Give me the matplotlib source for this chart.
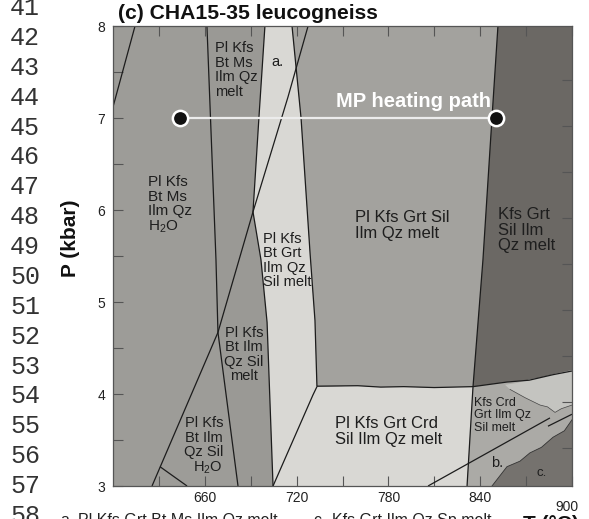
import matplotlib
matplotlib.use('Agg')
import matplotlib.pyplot as plt
from matplotlib.patches import Polygon

plt.rcParams['font.family'] = ['Liberation Sans', 'DejaVu Sans']
plt.rcParams['mathtext.fontset'] = 'custom'
plt.rcParams['mathtext.rm'] = 'Liberation Sans'

# ---------------- data: phase boundaries (T in °C, P in kbar) ----------------
line1_T = [614.4, 600.0]
line1_P = [8.0, 7.12]
steep_T = [625.5, 668.6, 691.5, 714.4, 727.5]
steep_P = [3.0, 4.67, 5.98, 7.23, 8.0]
branch_T = [630.7, 648.4]
branch_P = [3.21, 3.0]
line4_T = [661.4, 667.3, 668.6, 681.7]
line4_P = [8.0, 5.46, 4.67, 3.0]
bandL_T = [699.3, 695.4, 691.5, 696.7, 700.7, 704.6]
bandL_P = [8.0, 7.01, 5.98, 5.46, 4.78, 3.0]
bandR_T = [717.0, 722.9, 728.8, 732.0, 733.3]
bandR_P = [8.0, 7.0, 5.53, 4.80, 4.08]
crdL_T = [704.6, 730.7, 733.3]
crdL_P = [3.0, 3.99, 4.08]
horiz_T = [733.3, 760.0, 775.0, 790.0, 810.0, 835.3]
horiz_P = [4.085, 4.09, 4.075, 4.08, 4.07, 4.08]
darkB_T = [851.6, 847.7, 841.8, 835.3, 831.4]
darkB_P = [8.0, 7.0, 5.46, 4.08, 3.0]
crdTop_T = [835.3, 857.5, 872.0, 887.6, 900.0]
crdTop_P = [4.08, 4.13, 4.15, 4.21, 4.25]
bline_T = [805.9, 885.6]
bline_P = [3.0, 3.74]
bline2_T = [884.3, 900.0]
bline2_P = [3.65, 3.78]
cB_T = [847.7, 857.5, 866.0, 872.5, 880.0, 887.6, 895.0, 900.0]
cB_P = [3.0, 3.21, 3.27, 3.36, 3.42, 3.53, 3.60, 3.72]
speck_T = [856.2, 864.0, 872.5, 880.0, 888.9, 900.0, 900.0, 893.0, 888.9, 884.0, 879.1, 869.3, 859.5]
speck_P = [4.10, 4.12, 4.16, 4.18, 4.22, 4.26, 3.88, 3.84, 3.80, 3.86, 3.88, 3.96, 4.05]

# heating path
path_T = [644.0, 850.0]
path_P = [7.0, 7.0]

# axis ticks
x_major = [660, 720, 780, 840, 900]
x_labels = ['660', '720', '780', '840', '']
x_minor = [630, 690, 750, 810, 870]
y_major = [3, 4, 5, 6, 7, 8]
y_minor = [3.5, 4.5, 5.5, 6.5, 7.5]
y_right = [3.41, 3.91, 4.41, 4.91, 5.41, 5.91, 6.41, 6.91, 7.41]

# field labels
field_labels = [
    'Pl Kfs\nBt Ms\nIlm Qz\n$\\mathregular{H_2O}$',
    'Pl Kfs\nBt Ms\nIlm Qz\nmelt',
    'a.',
    'Pl Kfs Grt Sil\nIlm Qz melt',
    'Kfs Grt\nSil Ilm\nQz melt',
    'Pl Kfs\nBt Grt\nIlm Qz\nSil melt',
    'Pl Kfs\nBt Ilm\nQz Sil\nmelt',
    'Pl Kfs\nBt Ilm\nQz Sil\n$\\mathregular{H_2O}$',
    'Pl Kfs Grt Crd\nSil Ilm Qz melt',
    'Kfs Crd\nGrt Ilm Qz\nSil melt',
    'b.',
    'c.',
]
label_T = [622.9, 666.7, 707.2, 758.2, 851.6, 698.0, 685.6, 671.9, 745.1, 836.0, 851.0, 880.4]
label_P = [6.05, 7.52, 7.61, 5.83, 5.78, 5.45, 4.43, 3.43, 3.59, 3.77, 3.25, 3.14]

line_numbers = ['41', '42', '43', '44', '45', '46', '47', '48', '49',
                '50', '51', '52', '53', '54', '55', '56', '57', '58']

# ---------------- figure ----------------
W, H = 589, 519
fig = plt.figure(figsize=(W / 100, H / 100), dpi=100)
ax = fig.add_axes([113 / W, (H - 486) / H, 459 / W, 460 / H])
ax.set_xlim(600, 900)
ax.set_ylim(3, 8)
ax.set_facecolor('#9d9c98')

def pts(T, P):
    return list(zip(T, P))

rev = lambda l: l[::-1]

c_light = '#d9d8d4'
c_mid = '#a3a29e'
c_dark = '#6b6864'
c_strip = '#9a9995'
c_crd = '#abaaa6'
c_c = '#75726e'
c_speck = '#c4c4c0'

polys = [
    (pts(line4_T, line4_P) + [(704.6, 3.0)] + rev(pts(bandL_T, bandL_P)), c_strip),
    (pts(bandL_T, bandL_P) + pts(crdL_T, crdL_P)[1:] + rev(pts(bandR_T, bandR_P)), c_light),
    (pts(crdL_T, crdL_P) + pts(horiz_T, horiz_P)[1:] + [(831.4, 3.0)], c_light),
    (pts(bandR_T, bandR_P) + pts(horiz_T, horiz_P)[1:] + rev(pts(darkB_T[:3], darkB_P[:3])), c_mid),
    (pts(darkB_T[:4], darkB_P[:4]) + pts(crdTop_T, crdTop_P)[1:] + [(900.0, 8.0)], c_dark),
    (pts(darkB_T[3:], darkB_P[3:]) + [(900.0, 3.0)] + rev(pts(crdTop_T, crdTop_P)), c_crd),
    (pts(speck_T, speck_P), c_speck),
    (pts(cB_T, cB_P) + [(900.0, 3.0)], c_c),
]
for verts, col in polys:
    ax.add_patch(Polygon(verts, closed=True, facecolor=col, edgecolor='none', zorder=1))

lc = '#1c1c1c'
lw = 0.9
for T, P in [(line1_T, line1_P), (steep_T, steep_P), (branch_T, branch_P),
             (line4_T, line4_P), (bandL_T, bandL_P), (bandR_T, bandR_P),
             (crdL_T, crdL_P), (horiz_T, horiz_P), (darkB_T, darkB_P),
             (crdTop_T, crdTop_P), (bline_T, bline_P), (bline2_T, bline2_P)]:
    ax.plot(T, P, color=lc, lw=lw, zorder=2, solid_capstyle='butt')
ax.plot(cB_T, cB_P, color='#333333', lw=0.6, zorder=2)
ax.plot(speck_T[6:], speck_P[6:], color='#444444', lw=0.5, zorder=2)

# heating path
ax.plot(path_T, path_P, color='#ececec', lw=1.6, zorder=3)
ax.plot(path_T, path_P, 'o', ms=11, mfc='#111111', mec='white', mew=1.8, zorder=4)
ax.text(796.1, 7.18, 'MP heating path', color='white', fontsize=14.5,
        fontweight='bold', ha='center', va='center', zorder=5)

# field labels
sizes = [11, 10.5, 10.5, 12, 12, 10.5, 10.5, 10.5, 12, 9, 10.5, 9.5]
has = ['left', 'left', 'center', 'left', 'left', 'left', 'center', 'right',
       'left', 'left', 'center', 'center']
for s, T, P, fs, ha in zip(field_labels, label_T, label_P, sizes, has):
    ax.text(T, P, s, fontsize=fs, ha=ha, va='center', multialignment=ha,
            color='#1e1e1e', linespacing=1.05, zorder=5)

# ticks
ax.set_xticks(x_major)
ax.set_xticklabels(x_labels)
ax.set_xticks(x_minor, minor=True)
ax.set_yticks(y_major)
ax.set_yticks(y_minor, minor=True)
ax.tick_params(which='both', direction='in', length=7, width=0.8, color='#555555',
               top=True, right=False, labelsize=10, labelcolor='#222222')
ax.tick_params(axis='y', which='both', pad=5.5)
ax.tick_params(axis='x', which='both', pad=3.5)
for sp in ax.spines.values():
    sp.set_color('#555555')
    sp.set_linewidth(0.9)

ax2 = ax.twinx()
ax2.set_ylim(3, 8)
ax2.set_yticks(y_right)
ax2.set_yticklabels([])
ax2.tick_params(direction='in', length=7, width=0.8, color='#555555')
for sp in ax2.spines.values():
    sp.set_visible(False)

fig.text(567 / W, 1 - 500 / H, '900', fontsize=10, color='#222222', ha='center', va='top')

# axis labels
fig.text(71 / W, 1 - 238 / H, 'P (kbar)', rotation=90, fontsize=15,
         fontweight='bold', ha='center', va='center', color='#111111')
fig.text(523 / W, 1 - 530 / H, 'T (°C)', fontsize=15, fontweight='bold',
         ha='left', va='baseline', color='#111111')

# title
fig.text(118 / W, 1 - 19 / H, '(c) CHA15-35 leucogneiss', fontsize=15.2,
         fontweight='bold', ha='left', va='baseline', color='#111111')

# bottom legend line (partly cut off)
fig.text(60 / W, 1 - 525 / H, 'a.', fontsize=11.5, va='baseline', color='#222222')
fig.text(78 / W, 1 - 525 / H, 'Pl Kfs Grt Bt Ms Ilm Qz melt', fontsize=11.5,
         va='baseline', color='#222222')
fig.text(313 / W, 1 - 525 / H, 'c.', fontsize=11.5, va='baseline', color='#222222')
fig.text(332 / W, 1 - 525 / H, 'Kfs Grt Ilm Qz Sp melt', fontsize=11.5,
         va='baseline', color='#222222')

# line numbers of the surrounding document
for i, s in enumerate(line_numbers):
    yb = 15.1 + 29.87 * i
    fig.text(10 / W, 1 - yb / H, s, family=['Liberation Mono', 'DejaVu Sans Mono'],
             fontsize=18, va='baseline', ha='left', color='#333333')

fig.savefig('out.png', dpi=100)
